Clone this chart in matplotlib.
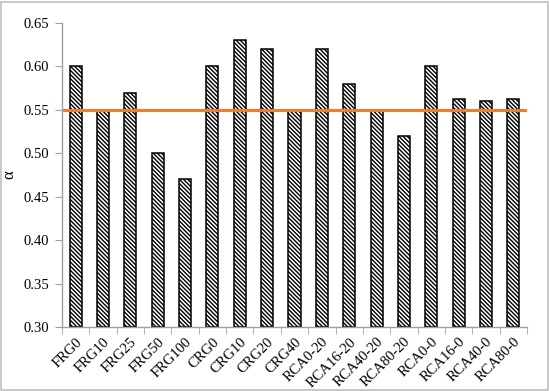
import matplotlib
matplotlib.use("Agg")
import matplotlib.pyplot as plt
from matplotlib.patches import Rectangle
import numpy as np

categories = ["FRG0", "FRG10", "FRG25", "FRG50", "FRG100", "CRG0", "CRG10", "CRG20", "CRG40",
              "RCA0-20", "RCA16-20", "RCA40-20", "RCA80-20", "RCA0-0", "RCA16-0", "RCA40-0", "RCA80-0"]
alpha_values = [0.60, 0.55, 0.57, 0.50, 0.47, 0.60, 0.63, 0.62, 0.55,
                0.62, 0.58, 0.55, 0.52, 0.60, 0.5625, 0.56, 0.5625]
reference_line = 0.55
y_ticks = [0.30, 0.35, 0.40, 0.45, 0.50, 0.55, 0.60, 0.65]

plt.rcParams['font.family'] = ['Liberation Serif', 'DejaVu Serif']
plt.rcParams['hatch.linewidth'] = 1.0

fig = plt.figure(figsize=(5.5, 3.91), dpi=100)
ax = fig.add_axes([0.1127, 0.1637, 0.8455, 0.7773])

x = np.arange(len(categories))
ax.bar(x, [v - 0.30 for v in alpha_values], bottom=0.30, width=0.44,
       color="white", edgecolor="black", hatch="\\" * 8, linewidth=1.1)
ax.plot([-0.5, len(categories) - 0.55], [reference_line] * 2, color="#ED7D31", linewidth=2.2)

ax.set_xlim(-0.5, len(categories) - 0.5)
ax.set_ylim(0.30, 0.65)
ax.set_yticks(y_ticks)
ax.set_yticklabels([f"{t:.2f}" for t in y_ticks], fontsize=10.5)
ax.set_xticks(x)
ax.set_xticklabels(categories, rotation=45, ha="right", rotation_mode="anchor", fontsize=10.5)
ax.tick_params(axis="x", length=0, pad=6)
ax.set_xticks(np.arange(-0.5, len(categories)), minor=True)
ax.tick_params(axis="x", which="minor", length=5, color="#A0A0A0", direction="out")
ax.tick_params(axis="y", length=5, color="#A0A0A0", direction="out", pad=4)

for s in ["top", "right"]:
    ax.spines[s].set_visible(False)
for s in ["left", "bottom"]:
    ax.spines[s].set_color("#A0A0A0")
    ax.spines[s].set_linewidth(1.0)

ax.set_ylabel("α", fontsize=12)
ax.yaxis.set_label_coords(-0.095, 0.5)

fig.patches.append(Rectangle((0.002, 0.003), 0.995, 0.993, transform=fig.transFigure,
                             fill=False, edgecolor="#BFBFBF", linewidth=1.2))

fig.savefig("out.png", dpi=100)
